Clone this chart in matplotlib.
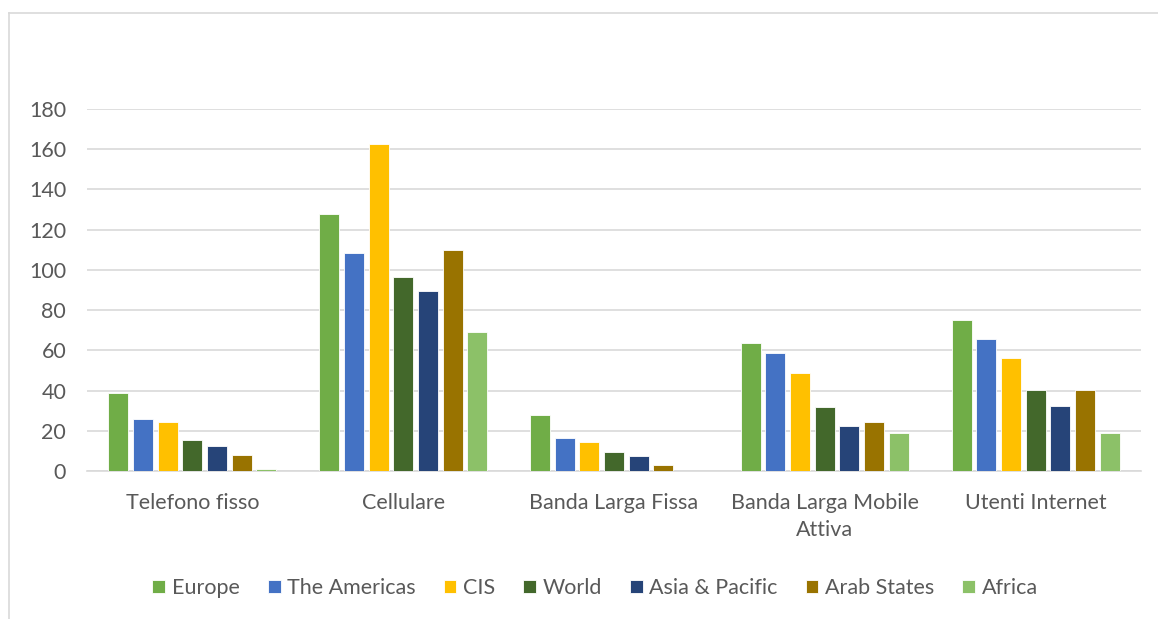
import matplotlib
matplotlib.use("Agg")
import matplotlib.pyplot as plt
import numpy as np
from matplotlib.lines import Line2D

categories = ["Telefono fisso", "Cellulare", "Banda Larga Fissa", "Banda Larga Mobile\nAttiva", "Utenti Internet"]
series_names = ["Europe", "The Americas", "CIS", "World", "Asia & Pacific", "Arab States", "Africa"]
europe = [39, 127.7, 27.6, 63.6, 74.9]
americas = [25.8, 108.4, 16.5, 58.9, 65.6]
cis = [24.6, 162.7, 14.2, 48.8, 56]
world = [15.3, 96.4, 9.5, 31.8, 40.3]
asia = [12.3, 89.3, 7.3, 22.5, 32.3]
arab = [8.2, 109.8, 2.8, 24.5, 40.3]
africa = [0.8, 69.2, 0, 18.7, 18.8]
yticks = [0, 20, 40, 60, 80, 100, 120, 140, 160, 180]

values = [europe, americas, cis, world, asia, arab, africa]
colors = ["#70AD47", "#4472C4", "#FFC000", "#43682B", "#264478", "#997300", "#8CC168"]

plt.rcParams['font.family'] = ['Lato', 'DejaVu Sans']
txt = "#595959"
fs = 15.5

fig = plt.figure(figsize=(11.58, 6.19), dpi=100)
ax = fig.add_axes([87/1158, 1 - 471/619, (1141-87)/1158, (471-109)/619])

x = np.arange(len(categories))
step = 0.117
width = 0.095
n = len(series_names)
for i, (name, vals, c) in enumerate(zip(series_names, values, colors)):
    off = (i - (n - 1) / 2) * step
    ax.bar(x + off, vals, width, color=c, label=name, edgecolor="white", linewidth=0.6, zorder=3)

ax.set_xlim(-0.5, len(categories) - 0.5)
ax.set_ylim(0, 180)
ax.set_yticks(yticks)
ax.yaxis.grid(True, color="#D9D9D9", linewidth=1.2, zorder=0)
ax.set_axisbelow(True)
for s in ["top", "right", "left"]:
    ax.spines[s].set_visible(False)
ax.spines["bottom"].set_color("#D9D9D9")
ax.spines["bottom"].set_linewidth(1.2)
ax.tick_params(axis="both", length=0, colors=txt, labelsize=fs)
ax.tick_params(axis="y", pad=15)
ax.tick_params(axis="x", pad=16)
ax.set_xticks(x)
ax.set_xticklabels(categories, color=txt, linespacing=1.4)

leg = fig.legend(loc="center", bbox_to_anchor=(595/1158, 1 - 588/619), ncol=7, frameon=False,
                 fontsize=15.5, handlelength=0.6, handleheight=0.6, handletextpad=0.3,
                 columnspacing=1.3, labelcolor=txt)

fig.add_artist(Line2D([8.5/1158, 8.5/1158], [0, 1 - 12.5/619], color="#D9D9D9", linewidth=1.2, transform=fig.transFigure))
fig.add_artist(Line2D([8.5/1158, 1], [1 - 12.5/619, 1 - 12.5/619], color="#D9D9D9", linewidth=1.2, transform=fig.transFigure))

fig.savefig("out.png", dpi=100, facecolor="white")
